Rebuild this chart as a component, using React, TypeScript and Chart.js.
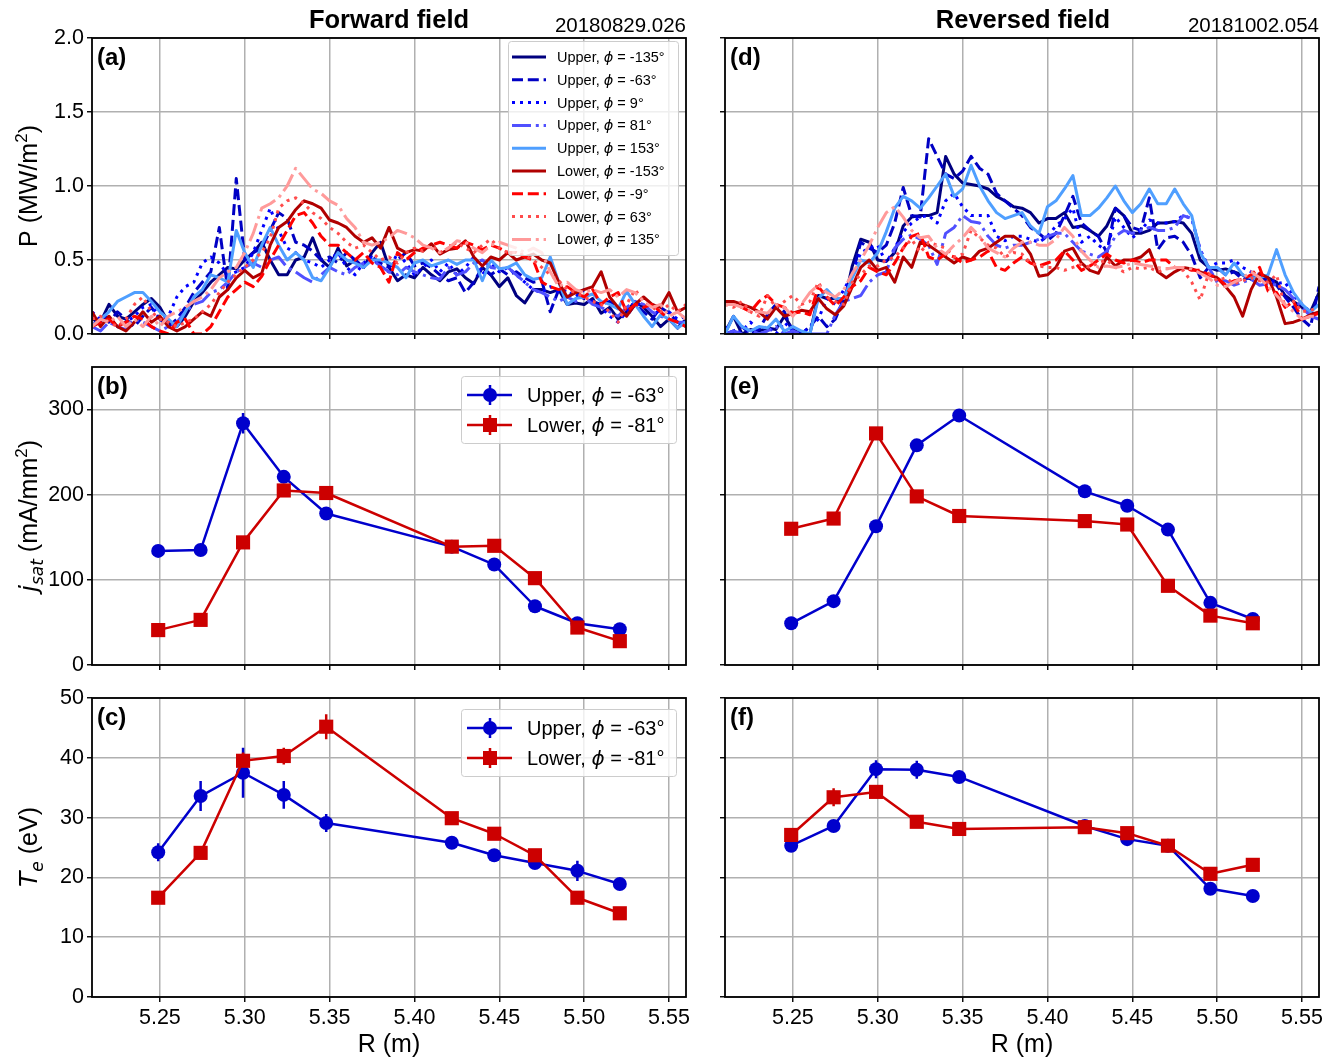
import React, { useEffect, useRef } from "react";
import { Chart, registerables } from "chart.js";
Chart.register(...registerables);

// ---------------- DATA ----------------
const R_TOP = [5.21,5.215,5.22,5.225,5.23,5.235,5.24,5.245,5.25,5.255,5.26,5.265,5.27,5.275,5.28,5.285,5.29,5.295,5.3,5.305,5.31,5.315,5.32,5.325,5.33,5.335,5.34,5.345,5.35,5.355,5.36,5.365,5.37,5.375,5.38,5.385,5.39,5.395,5.4,5.405,5.41,5.415,5.42,5.425,5.43,5.435,5.44,5.445,5.45,5.455,5.46,5.465,5.47,5.475,5.48,5.485,5.49,5.495,5.5,5.505,5.51,5.515,5.52,5.525,5.53,5.535,5.54,5.545,5.55,5.555,5.56];

const TOP_GROUP = ["Upper","Upper","Upper","Upper","Upper","Lower","Lower","Lower","Lower"];
const TOP_PHI = ["-135","-63","9","81","153","-153","-9","63","135"];

// Forward field (a)
const A_U135 = [0.10,0.08,0.20,0.12,0.10,0.15,0.20,0.24,0.18,0.08, 0.05,0.12,0.22,0.28,0.35,0.40,0.45,0.44,0.50,0.55, 0.62,0.50,0.40,0.40,0.50,0.52,0.65,0.50,0.45,0.58, 0.46,0.50,0.45,0.55,0.62,0.45,0.36,0.40,0.38,0.45, 0.40,0.36,0.42,0.44,0.38,0.34,0.45,0.40,0.32,0.38, 0.26,0.21,0.30,0.30,0.28,0.30,0.20,0.21,0.20,0.24, 0.14,0.18,0.10,0.15,0.22,0.18,0.12,0.05,0.10,0.04, 0.10];
const A_U63 = [0.05,0.12,0.08,0.15,0.10,0.05,0.12,0.18,0.10,0.05, 0.10,0.18,0.28,0.35,0.42,0.72,0.30,1.05,0.50,0.55, 0.58,0.70,0.82,0.78,0.62,0.60,0.56,0.50,0.52,0.48, 0.55,0.50,0.45,0.52,0.48,0.45,0.50,0.55,0.46,0.48, 0.45,0.40,0.36,0.38,0.28,0.35,0.45,0.40,0.44,0.40, 0.42,0.38,0.35,0.36,0.15,0.30,0.25,0.28,0.24,0.22, 0.20,0.22,0.18,0.12,0.20,0.15,0.10,0.18,0.14,0.08, 0.05];
const A_U9 = [0.15,0.10,0.12,0.05,0.08,0.12,0.18,0.20,0.10,0.12, 0.25,0.32,0.35,0.48,0.52,0.48,0.40,0.42,0.45,0.55, 0.70,0.85,0.70,0.58,0.55,0.50,0.48,0.45,0.50,0.55, 0.45,0.40,0.48,0.52,0.45,0.42,0.55,0.48,0.40,0.45, 0.50,0.42,0.48,0.40,0.45,0.52,0.40,0.48,0.42,0.45, 0.40,0.35,0.30,0.28,0.32,0.28,0.30,0.25,0.30,0.22, 0.18,0.12,0.08,0.15,0.22,0.18,0.20,0.12,0.15,0.10, 0.12];
const A_U81 = [0.05,0.02,0.08,0.05,0.03,0.10,0.08,0.05,0.02,0.05, 0.08,0.15,0.20,0.22,0.28,0.30,0.35,0.42,0.45,0.48, 0.45,0.50,0.52,0.45,0.42,0.38,0.35,0.40,0.45,0.42, 0.40,0.45,0.48,0.50,0.46,0.42,0.40,0.45,0.42,0.40, 0.38,0.37,0.45,0.40,0.42,0.48,0.50,0.45,0.44,0.45, 0.40,0.35,0.30,0.28,0.25,0.22,0.25,0.22,0.25,0.20, 0.18,0.15,0.12,0.18,0.22,0.20,0.15,0.12,0.10,0.08, 0.08];
const A_U153 = [0.05,0.10,0.15,0.22,0.25,0.28,0.28,0.22,0.15,0.10, 0.05,0.15,0.25,0.30,0.40,0.38,0.35,0.70,0.55,0.45, 0.60,0.72,0.60,0.50,0.55,0.50,0.38,0.36,0.45,0.55, 0.50,0.48,0.45,0.50,0.50,0.48,0.45,0.38,0.48,0.50, 0.46,0.48,0.50,0.47,0.50,0.50,0.36,0.50,0.44,0.45, 0.48,0.40,0.37,0.38,0.52,0.35,0.20,0.24,0.25,0.27, 0.22,0.20,0.17,0.29,0.20,0.12,0.05,0.13,0.10,0.04, 0.08];
const A_L153 = [0.15,0.05,0.12,0.05,0.02,0.08,0.15,0.08,0.12,0.05, 0.02,0.05,0.10,0.15,0.12,0.25,0.30,0.38,0.43,0.38, 0.41,0.60,0.72,0.76,0.84,0.90,0.88,0.85,0.77,0.75, 0.72,0.66,0.62,0.65,0.58,0.72,0.58,0.55,0.57,0.56, 0.61,0.54,0.57,0.58,0.63,0.52,0.46,0.52,0.50,0.55, 0.50,0.52,0.54,0.50,0.48,0.35,0.25,0.28,0.30,0.32, 0.42,0.25,0.18,0.12,0.20,0.25,0.20,0.18,0.28,0.15, 0.18];
const A_L9 = [0.05,0.08,0.10,0.05,0.08,0.12,0.10,0.05,0.02,0.00, 0.08,0.10,0.00,0.00,0.05,0.15,0.25,0.30,0.35,0.32, 0.39,0.50,0.60,0.70,0.80,0.82,0.75,0.66,0.60,0.60, 0.55,0.50,0.55,0.48,0.45,0.35,0.55,0.50,0.55,0.58, 0.60,0.62,0.60,0.58,0.62,0.60,0.57,0.60,0.58,0.55, 0.55,0.52,0.50,0.35,0.32,0.30,0.32,0.28,0.25,0.30, 0.20,0.25,0.28,0.15,0.20,0.18,0.20,0.15,0.10,0.08, 0.05];
const A_L63 = [0.10,0.12,0.08,0.05,0.10,0.20,0.25,0.15,0.10,0.08, 0.05,0.08,0.10,0.15,0.20,0.28,0.35,0.40,0.45,0.50, 0.55,0.65,0.85,0.90,0.92,0.88,0.82,0.78,0.72,0.68, 0.62,0.58,0.60,0.55,0.50,0.52,0.48,0.55,0.58,0.56, 0.60,0.55,0.58,0.62,0.58,0.55,0.60,0.64,0.58,0.55, 0.55,0.53,0.50,0.45,0.40,0.36,0.30,0.28,0.25,0.22, 0.20,0.15,0.08,0.20,0.30,0.22,0.18,0.15,0.20,0.15, 0.20];
const A_L135 = [0.05,0.10,0.08,0.12,0.05,0.10,0.05,0.12,0.05,0.12, 0.15,0.18,0.22,0.25,0.30,0.38,0.42,0.45,0.55,0.68, 0.85,0.88,0.92,1.00,1.12,1.05,0.98,0.95,0.90,0.87, 0.78,0.72,0.62,0.60,0.62,0.65,0.70,0.68,0.65,0.60, 0.58,0.55,0.58,0.63,0.62,0.58,0.55,0.60,0.62,0.60, 0.58,0.55,0.58,0.55,0.42,0.32,0.35,0.30,0.28,0.30, 0.28,0.30,0.25,0.30,0.28,0.22,0.18,0.20,0.12,0.15, 0.10];

// Reversed field (d)
const D_U135 = [0.01,0.12,0.00,0.03,0.02,0.04,0.03,0.12,0.03,0.00, 0.00,0.26,0.24,0.24,0.20,0.46,0.64,0.62,0.50,0.49, 0.55,0.73,0.79,0.80,0.80,0.82,1.20,1.08,1.02,1.01, 1.00,0.98,0.93,0.90,0.86,0.85,0.82,0.75,0.78,0.78, 0.82,0.72,0.73,0.70,0.66,0.73,0.85,0.80,0.68,0.68, 0.70,0.75,0.75,0.76,0.75,0.68,0.50,0.45,0.43,0.44, 0.42,0.40,0.37,0.40,0.38,0.35,0.26,0.22,0.18,0.15, 0.28];
const D_U63 = [0.00,0.02,0.05,0.00,0.03,0.13,0.20,0.15,0.00,0.00, 0.05,0.12,0.05,0.10,0.24,0.40,0.62,0.58,0.55,0.60, 0.75,0.99,0.80,0.79,1.32,1.20,1.08,1.05,1.10,1.20, 1.12,1.08,0.95,0.90,0.85,0.80,0.72,0.68,0.63,0.68, 0.80,0.93,0.75,0.70,0.66,0.55,0.85,0.80,0.72,0.70, 0.92,0.57,0.65,0.66,0.62,0.53,0.38,0.45,0.45,0.40, 0.42,0.37,0.38,0.40,0.35,0.33,0.25,0.18,0.10,0.05, 0.32];
const D_U9 = [0.05,0.00,0.02,0.08,0.03,0.05,0.00,0.08,0.02,0.00, 0.05,0.10,0.24,0.20,0.30,0.40,0.55,0.58,0.60,0.48, 0.58,0.69,0.75,0.79,0.80,0.75,0.90,0.95,0.86,0.80, 0.80,0.80,0.66,0.63,0.66,0.66,0.64,0.62,0.66,0.73, 0.78,0.85,0.62,0.66,0.60,0.56,0.79,0.72,0.65,0.70, 0.77,0.75,0.75,0.76,0.80,0.78,0.57,0.45,0.48,0.48, 0.50,0.45,0.42,0.40,0.38,0.34,0.35,0.26,0.20,0.15, 0.12];
const D_U81 = [0.00,0.02,0.00,0.03,0.00,0.02,0.05,0.00,0.02,0.00, 0.00,0.00,0.00,0.13,0.22,0.24,0.26,0.35,0.40,0.42, 0.58,0.64,0.67,0.64,0.60,0.47,0.68,0.72,0.80,0.76, 0.75,0.66,0.60,0.58,0.60,0.60,0.62,0.64,0.66,0.68, 0.68,0.62,0.56,0.54,0.52,0.56,0.66,0.70,0.68,0.70, 0.72,0.70,0.70,0.72,0.80,0.78,0.57,0.45,0.35,0.36, 0.33,0.35,0.37,0.33,0.34,0.33,0.30,0.24,0.18,0.12, 0.10];
const D_U153 = [0.00,0.12,0.05,0.02,0.05,0.04,0.10,0.02,0.05,0.02, 0.00,0.24,0.30,0.24,0.24,0.38,0.50,0.48,0.55,0.69, 0.85,0.93,0.90,0.85,0.92,1.00,1.08,0.93,0.98,1.14, 1.00,0.90,0.82,0.78,0.80,0.82,0.73,0.68,0.86,0.90, 0.98,1.07,0.80,0.80,0.85,0.92,1.00,0.90,0.82,0.88, 0.98,0.88,0.88,0.98,0.88,0.80,0.55,0.45,0.45,0.40, 0.48,0.40,0.38,0.38,0.40,0.57,0.40,0.28,0.20,0.15, 0.20];
const D_L153 = [0.22,0.22,0.20,0.18,0.15,0.10,0.18,0.12,0.14,0.16, 0.15,0.24,0.17,0.13,0.19,0.32,0.45,0.50,0.43,0.45, 0.35,0.52,0.45,0.62,0.60,0.56,0.52,0.48,0.52,0.50, 0.56,0.58,0.62,0.66,0.66,0.62,0.54,0.39,0.40,0.45, 0.56,0.58,0.48,0.43,0.41,0.52,0.46,0.50,0.50,0.52, 0.57,0.42,0.38,0.42,0.45,0.44,0.42,0.40,0.38,0.32, 0.25,0.12,0.30,0.41,0.38,0.25,0.07,0.08,0.10,0.13, 0.15];
const D_L9 = [0.20,0.20,0.18,0.15,0.22,0.26,0.20,0.18,0.14,0.15, 0.13,0.32,0.25,0.19,0.25,0.32,0.36,0.45,0.42,0.40, 0.48,0.58,0.66,0.68,0.52,0.50,0.54,0.52,0.48,0.50, 0.52,0.56,0.45,0.43,0.48,0.52,0.48,0.46,0.48,0.50, 0.56,0.50,0.43,0.46,0.50,0.54,0.50,0.48,0.50,0.48, 0.50,0.50,0.50,0.45,0.45,0.43,0.43,0.40,0.38,0.33, 0.36,0.37,0.40,0.45,0.29,0.28,0.18,0.22,0.10,0.12, 0.14];
const D_L63 = [0.20,0.18,0.22,0.15,0.12,0.26,0.18,0.22,0.26,0.20, 0.22,0.35,0.25,0.22,0.20,0.35,0.40,0.46,0.46,0.50, 0.52,0.58,0.64,0.55,0.62,0.60,0.58,0.52,0.54,0.70, 0.65,0.60,0.58,0.52,0.55,0.54,0.48,0.46,0.45,0.45, 0.43,0.45,0.47,0.45,0.48,0.50,0.45,0.42,0.45,0.44, 0.45,0.42,0.44,0.45,0.43,0.35,0.23,0.41,0.36,0.38, 0.34,0.36,0.38,0.36,0.35,0.40,0.18,0.22,0.15,0.16, 0.18];
const D_L135 = [0.20,0.20,0.18,0.15,0.15,0.14,0.20,0.18,0.12,0.20, 0.28,0.33,0.28,0.25,0.30,0.41,0.50,0.60,0.72,0.82, 0.86,0.79,0.70,0.65,0.66,0.58,0.54,0.60,0.65,0.72, 0.66,0.58,0.55,0.52,0.58,0.62,0.62,0.60,0.60,0.64, 0.72,0.66,0.56,0.50,0.45,0.46,0.45,0.46,0.48,0.47, 0.46,0.45,0.44,0.45,0.45,0.44,0.41,0.38,0.33,0.32, 0.35,0.38,0.42,0.38,0.32,0.26,0.20,0.15,0.10,0.12, 0.12];

// Probe positions (b,c,e,f)
const PROBE_R = [5.249, 5.274, 5.299, 5.323, 5.348, 5.422, 5.447, 5.471, 5.496, 5.521];
const MID_LEG_PHI = ["-63", "-81"];

const B_UP = [134, 135, 284, 221, 178, 139, 118, 69, 49, 42];
const B_UP_ERR = [3, 3, 12, 6, 3, 3, 3, 2, 2, 2];
const B_LO = [41, 53, 144, 205, 202, 139, 140, 102, 44, 28];
const B_LO_ERR = [2, 2, 5, 4, 4, 3, 3, 2, 2, 2];
const E_UP = [49, 75, 163, 258, 293, 204, 187, 159, 73, 54];
const E_UP_ERR = [2, 3, 4, 5, 5, 4, 4, 4, 3, 2];
const E_LO = [160, 172, 272, 198, 175, 169, 165, 93, 58, 49];
const E_LO_ERR = [3, 3, 5, 4, 3, 3, 3, 3, 2, 2];

const C_UP = [24.2, 33.6, 37.5, 33.8, 29.1, 25.8, 23.7, 22.4, 21.1, 18.9];
const C_UP_ERR = [1.5, 2.5, 4.2, 2.3, 1.5, 0.8, 0.8, 0.8, 1.7, 0.8];
const C_LO = [16.6, 24.1, 39.5, 40.3, 45.2, 29.9, 27.3, 23.7, 16.6, 14.0];
const C_LO_ERR = [0.8, 0.8, 1.4, 1.4, 2.1, 0.8, 0.8, 0.8, 0.8, 0.8];
const F_UP = [25.3, 28.6, 38.1, 38.0, 36.8, 28.6, 26.4, 25.3, 18.1, 16.9];
const F_UP_ERR = [0.8, 0.8, 1.5, 1.5, 0.8, 0.6, 0.6, 1.0, 0.6, 0.6];
const F_LO = [27.1, 33.4, 34.3, 29.3, 28.1, 28.4, 27.4, 25.3, 20.6, 22.1];
const F_LO_ERR = [0.8, 1.5, 1.0, 0.8, 0.6, 0.6, 0.6, 0.6, 0.6, 0.6];

// Axes ticks
const X_TICKS = [5.25, 5.30, 5.35, 5.40, 5.45, 5.50, 5.55];
const X_TICK_LABELS = ["5.25", "5.30", "5.35", "5.40", "5.45", "5.50", "5.55"];
const P_TICKS = [0, 0.5, 1.0, 1.5, 2.0];
const P_TICK_LABELS = ["0.0", "0.5", "1.0", "1.5", "2.0"];
const J_TICKS = [0, 100, 200, 300];
const J_TICK_LABELS = ["0", "100", "200", "300"];
const T_TICKS = [0, 10, 20, 30, 40, 50];
const T_TICK_LABELS = ["0", "10", "20", "30", "40", "50"];

const X_RANGE = [5.21, 5.56];
const P_RANGE = [0, 2.0];
const J_RANGE = [0, 350];
const T_RANGE = [0, 50];

// ---------------- STYLE ----------------
const W = 1344, H = 1062;
const SANS = '"Liberation Sans", Arial, Helvetica, sans-serif';
const MATH = '"DejaVu Sans", sans-serif';
const YW = 45, XH = 34;
const GRID = "#b0b0b0";
const TOP_COLORS = ["#00007f", "#0000c4", "#0000ff", "#5050ff", "#4f9fff", "#b00000", "#ff0000", "#ff4c4c", "#ff9a9a"];
const LW_TOP = 3.0;
const DASHES: Record<string, number[]> = {
  solid: [],
  dashed: [11, 4.8],
  dotted: [3, 5],
  dashdot: [19, 4.8, 3, 4.8],
};
const TOP_STYLES = ["solid", "dashed", "dotted", "dashdot", "solid", "solid", "dashed", "dotted", "dashdot"];
const BLUE = "#0000cc", RED = "#cc0000";
const TICK_FONT = 21.5;
const LABEL_FONT = 25;

const COLS = [{ l: 92, r: 686 }, { l: 725, r: 1319 }];
const ROWS = [{ t: 38, b: 334 }, { t: 367, b: 665 }, { t: 698, b: 997 }];

type Part = { text: string; font: string; dy?: number };

function drawRich(ctx: any, parts: Part[], x: number, y: number, align: string) {
  let total = 0;
  for (const p of parts) { ctx.font = p.font; total += ctx.measureText(p.text).width; }
  let cx = align === "left" ? x : align === "center" ? x - total / 2 : x - total;
  ctx.textAlign = "left";
  ctx.textBaseline = "alphabetic";
  for (const p of parts) {
    ctx.font = p.font;
    ctx.fillText(p.text, cx, y + (p.dy || 0));
    cx += ctx.measureText(p.text).width;
  }
}

function roundRect(ctx: any, x: number, y: number, w: number, h: number, r: number) {
  ctx.beginPath();
  ctx.moveTo(x + r, y);
  ctx.lineTo(x + w - r, y);
  ctx.quadraticCurveTo(x + w, y, x + w, y + r);
  ctx.lineTo(x + w, y + h - r);
  ctx.quadraticCurveTo(x + w, y + h, x + w - r, y + h);
  ctx.lineTo(x + r, y + h);
  ctx.quadraticCurveTo(x, y + h, x, y + h - r);
  ctx.lineTo(x, y + r);
  ctx.quadraticCurveTo(x, y, x + r, y);
  ctx.closePath();
}

function drawYTitle(ctx: any, cx: number, cy: number, parts: Part[]) {
  ctx.save();
  ctx.fillStyle = "#000";
  ctx.translate(cx, cy);
  ctx.rotate(-Math.PI / 2);
  drawRich(ctx, parts, 0, 9, "center");
  ctx.restore();
}

const F = (s: number) => `${s}px ${SANS}`;
const FB = (s: number) => `bold ${s}px ${SANS}`;
const FI = (s: number) => `italic ${s}px ${MATH}`;

function drawTopLegend(ctx: any) {
  ctx.save();
  roundRect(ctx, 508.5, 41.5, 170, 214, 3);
  ctx.fillStyle = "rgba(255,255,255,0.8)";
  ctx.fill();
  ctx.strokeStyle = "#cccccc";
  ctx.lineWidth = 1;
  ctx.stroke();
  for (let i = 0; i < TOP_GROUP.length; i++) {
    const y = 57 + i * 22.8;
    ctx.strokeStyle = TOP_COLORS[i];
    ctx.lineWidth = LW_TOP;
    ctx.lineCap = "butt";
    ctx.setLineDash(DASHES[TOP_STYLES[i]]);
    ctx.beginPath();
    ctx.moveTo(512, y);
    ctx.lineTo(546, y);
    ctx.stroke();
    ctx.setLineDash([]);
    ctx.fillStyle = "#000";
    drawRich(ctx, [
      { text: `${TOP_GROUP[i]}, `, font: F(14.5) },
      { text: "ϕ", font: FI(14.5) },
      { text: ` = ${TOP_PHI[i]}°`, font: F(14.5) },
    ], 557, y + 5, "left");
  }
  ctx.restore();
}

function drawMidLegend(ctx: any, top: number) {
  ctx.save();
  roundRect(ctx, 461.5, top + 0.5, 215, 67, 3);
  ctx.fillStyle = "rgba(255,255,255,0.8)";
  ctx.fill();
  ctx.strokeStyle = "#cccccc";
  ctx.lineWidth = 1;
  ctx.stroke();
  const entries = [
    { g: "Upper", color: BLUE, marker: "circle", phi: MID_LEG_PHI[0] },
    { g: "Lower", color: RED, marker: "rect", phi: MID_LEG_PHI[1] },
  ];
  entries.forEach((e, i) => {
    const y = top + 19 + i * 30;
    ctx.strokeStyle = e.color;
    ctx.fillStyle = e.color;
    ctx.lineWidth = 2.5;
    ctx.beginPath();
    ctx.moveTo(467, y); ctx.lineTo(512, y);
    ctx.moveTo(490, y - 10); ctx.lineTo(490, y + 10);
    ctx.stroke();
    ctx.beginPath();
    if (e.marker === "circle") ctx.arc(490, y, 7, 0, Math.PI * 2);
    else ctx.rect(483, y - 7, 14, 14);
    ctx.fill();
    ctx.fillStyle = "#000";
    drawRich(ctx, [
      { text: `${e.g}, `, font: F(20) },
      { text: "ϕ", font: FI(20) },
      { text: ` = ${e.phi}°`, font: F(20) },
    ], 527, y + 7, "left");
  });
  ctx.restore();
}

type LineSpec = {
  label: string; color: string; dash: number[]; width: number;
  xs: number[]; values: number[]; point?: string; err?: number[];
};
type PanelSpec = {
  col: number; row: number; yRange: number[]; yTicks: number[]; yTickLabels: string[];
  showYLabels: boolean; showXLabels: boolean; lines: LineSpec[]; extra: (ctx: any) => void;
};

function topLines(arrs: number[][]): LineSpec[] {
  return arrs.map((vals, i) => ({
    label: `${TOP_GROUP[i]}, ϕ = ${TOP_PHI[i]}°`,
    color: TOP_COLORS[i], dash: DASHES[TOP_STYLES[i]], width: LW_TOP, xs: R_TOP, values: vals,
  }));
}
function probeLines(up: number[], upErr: number[], lo: number[], loErr: number[]): LineSpec[] {
  return [
    { label: "Upper", color: BLUE, dash: [], width: 2.5, xs: PROBE_R, values: up, point: "circle", err: upErr },
    { label: "Lower", color: RED, dash: [], width: 2.5, xs: PROBE_R, values: lo, point: "rect", err: loErr },
  ];
}

const panelLabel = (ctx: any, s: string, col: number, row: number) => {
  ctx.fillStyle = "#000";
  ctx.font = FB(24);
  ctx.textAlign = "left";
  ctx.textBaseline = "alphabetic";
  ctx.fillText(s, COLS[col].l + 5, ROWS[row].t + 27);
};

const SUP = (t: string): Part => ({ text: t, font: F(17), dy: -10 });

const PANELS: PanelSpec[] = [
  {
    col: 0, row: 0, yRange: P_RANGE, yTicks: P_TICKS, yTickLabels: P_TICK_LABELS, showYLabels: true, showXLabels: false,
    lines: topLines([A_U135, A_U63, A_U9, A_U81, A_U153, A_L153, A_L9, A_L63, A_L135]),
    extra: (ctx) => {
      drawTopLegend(ctx);
      panelLabel(ctx, "(a)", 0, 0);
      ctx.fillStyle = "#000";
      ctx.font = FB(25.5); ctx.textAlign = "center"; ctx.fillText("Forward field", 389, 28);
      ctx.font = F(20.5); ctx.textAlign = "right"; ctx.fillText("20180829.026", 686, 32);
      drawYTitle(ctx, 28, 186, [{ text: "P (MW/m", font: F(LABEL_FONT) }, SUP("2"), { text: ")", font: F(LABEL_FONT) }]);
    },
  },
  {
    col: 1, row: 0, yRange: P_RANGE, yTicks: P_TICKS, yTickLabels: P_TICK_LABELS, showYLabels: false, showXLabels: false,
    lines: topLines([D_U135, D_U63, D_U9, D_U81, D_U153, D_L153, D_L9, D_L63, D_L135]),
    extra: (ctx) => {
      panelLabel(ctx, "(d)", 1, 0);
      ctx.fillStyle = "#000";
      ctx.font = FB(25.5); ctx.textAlign = "center"; ctx.fillText("Reversed field", 1023, 28);
      ctx.font = F(20.5); ctx.textAlign = "right"; ctx.fillText("20181002.054", 1319, 32);
    },
  },
  {
    col: 0, row: 1, yRange: J_RANGE, yTicks: J_TICKS, yTickLabels: J_TICK_LABELS, showYLabels: true, showXLabels: false,
    lines: probeLines(B_UP, B_UP_ERR, B_LO, B_LO_ERR),
    extra: (ctx) => {
      drawMidLegend(ctx, 376);
      panelLabel(ctx, "(b)", 0, 1);
      drawYTitle(ctx, 28, 516, [
        { text: "j", font: FI(LABEL_FONT) }, { text: "sat", font: FI(17), dy: 6 },
        { text: " (mA/mm", font: F(LABEL_FONT) }, SUP("2"), { text: ")", font: F(LABEL_FONT) },
      ]);
    },
  },
  {
    col: 1, row: 1, yRange: J_RANGE, yTicks: J_TICKS, yTickLabels: J_TICK_LABELS, showYLabels: false, showXLabels: false,
    lines: probeLines(E_UP, E_UP_ERR, E_LO, E_LO_ERR),
    extra: (ctx) => { panelLabel(ctx, "(e)", 1, 1); },
  },
  {
    col: 0, row: 2, yRange: T_RANGE, yTicks: T_TICKS, yTickLabels: T_TICK_LABELS, showYLabels: true, showXLabels: true,
    lines: probeLines(C_UP, C_UP_ERR, C_LO, C_LO_ERR),
    extra: (ctx) => {
      drawMidLegend(ctx, 709);
      panelLabel(ctx, "(c)", 0, 2);
      drawYTitle(ctx, 28, 847, [
        { text: "T", font: FI(LABEL_FONT) }, { text: "e", font: FI(17), dy: 6 }, { text: " (eV)", font: F(LABEL_FONT) },
      ]);
      ctx.fillStyle = "#000"; ctx.font = F(LABEL_FONT); ctx.textAlign = "center";
      ctx.fillText("R (m)", (COLS[0].l + COLS[0].r) / 2, 1052);
    },
  },
  {
    col: 1, row: 2, yRange: T_RANGE, yTicks: T_TICKS, yTickLabels: T_TICK_LABELS, showYLabels: false, showXLabels: true,
    lines: probeLines(F_UP, F_UP_ERR, F_LO, F_LO_ERR),
    extra: (ctx) => {
      panelLabel(ctx, "(f)", 1, 2);
      ctx.fillStyle = "#000"; ctx.font = F(LABEL_FONT); ctx.textAlign = "center";
      ctx.fillText("R (m)", (COLS[1].l + COLS[1].r) / 2, 1052);
    },
  },
];

function buildConfig(spec: PanelSpec): any {
  const c = COLS[spec.col], r = ROWS[spec.row];
  const n = spec.lines.length;
  const gridOpts = { color: GRID, lineWidth: 1.5, tickColor: "#000", tickLength: 5, tickWidth: 1.4, drawTicks: true, drawOnChartArea: true };
  return {
    type: "line",
    data: {
      datasets: spec.lines.map((s, i) => ({
        label: s.label,
        data: s.xs.map((x, j) => ({ x, y: s.values[j] })),
        borderColor: s.color,
        backgroundColor: s.color,
        borderWidth: s.width,
        borderDash: s.dash,
        borderCapStyle: "butt",
        borderJoinStyle: "round",
        pointRadius: s.point ? (s.point === "rect" ? 10 : 7) : 0,
        pointHoverRadius: 0,
        pointStyle: s.point === "rect" ? "rect" : "circle",
        pointBorderWidth: 0,
        pointBackgroundColor: s.color,
        pointBorderColor: s.color,
        tension: 0,
        fill: false,
        order: n - i,
      })),
    },
    options: {
      responsive: false,
      animation: false,
      devicePixelRatio: 1,
      events: [],
      layout: { padding: { left: c.l - YW, top: r.t, right: W - c.r, bottom: H - r.b - XH } },
      plugins: { legend: { display: false }, tooltip: { enabled: false }, title: { display: false } },
      scales: {
        x: {
          type: "linear", min: X_RANGE[0], max: X_RANGE[1],
          afterFit: (s: any) => { s.height = XH; },
          afterBuildTicks: (s: any) => { s.ticks = X_TICKS.map((v) => ({ value: v })); },
          ticks: {
            display: spec.showXLabels, autoSkip: false, maxRotation: 0, padding: 3, color: "#000",
            font: { family: SANS, size: TICK_FONT },
            callback: (_v: any, i: number) => X_TICK_LABELS[i],
          },
          grid: gridOpts,
          border: { display: false },
        },
        y: {
          type: "linear", min: spec.yRange[0], max: spec.yRange[1],
          afterFit: (s: any) => { s.width = YW; },
          afterBuildTicks: (s: any) => { s.ticks = spec.yTicks.map((v) => ({ value: v })); },
          ticks: {
            display: spec.showYLabels, autoSkip: false, padding: 3, color: "#000",
            font: { family: SANS, size: TICK_FONT },
            callback: (_v: any, i: number) => spec.yTickLabels[i],
          },
          grid: gridOpts,
          border: { display: false },
        },
      },
    },
    plugins: [
      {
        id: "errbars",
        beforeDatasetsDraw(chart: any) {
          const ctx = chart.ctx;
          const xs = chart.scales.x, ys = chart.scales.y;
          ctx.save();
          spec.lines.forEach((s) => {
            if (!s.err) return;
            ctx.strokeStyle = s.color;
            ctx.lineWidth = 2.5;
            ctx.beginPath();
            s.xs.forEach((x, j) => {
              const px = xs.getPixelForValue(x);
              ctx.moveTo(px, ys.getPixelForValue(s.values[j] - s.err![j]));
              ctx.lineTo(px, ys.getPixelForValue(s.values[j] + s.err![j]));
            });
            ctx.stroke();
          });
          ctx.restore();
        },
      },
      {
        id: "frameText",
        afterDraw(chart: any) {
          const ctx = chart.ctx;
          const a = chart.chartArea;
          ctx.save();
          spec.extra(ctx);
          ctx.strokeStyle = "#000";
          ctx.lineWidth = 1.8;
          ctx.setLineDash([]);
          ctx.strokeRect(a.left, a.top, a.right - a.left, a.bottom - a.top);
          ctx.restore();
        },
      },
    ],
  };
}

function Panel({ spec }: { spec: PanelSpec }) {
  const ref = useRef<HTMLCanvasElement>(null);
  useEffect(() => {
    const chart = new Chart(ref.current as HTMLCanvasElement, buildConfig(spec));
    return () => chart.destroy();
  }, []);
  return (
    <canvas
      ref={ref}
      width={W}
      height={H}
      style={{ position: "absolute", left: 0, top: 0, width: W, height: H }}
    />
  );
}

export default function App() {
  return (
    <div style={{ position: "absolute", left: 0, top: 0, width: W, height: H, background: "#fff", overflow: "hidden" }}>
      {PANELS.map((p, i) => (
        <Panel key={i} spec={p} />
      ))}
    </div>
  );
}
